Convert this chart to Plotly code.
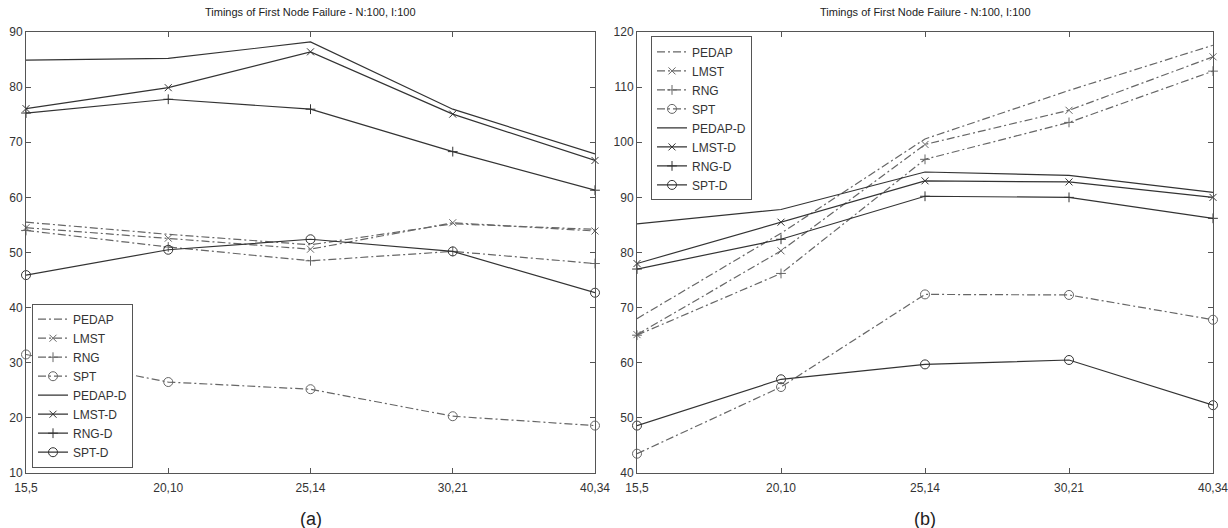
import plotly.graph_objects as go

categories = ["15,5", "20,10", "25,14", "30,21", "40,34"]
series_names = ["PEDAP", "LMST", "RNG", "SPT", "PEDAP-D", "LMST-D", "RNG-D", "SPT-D"]

# Panel (a)
a_pedap = [55.5, 53.3, 51.4, 55.2, 54.2]
a_lmst = [54.5, 52.6, 50.6, 55.4, 53.9]
a_rng = [54.0, 51.0, 48.5, 50.2, 48.0]
a_spt = [31.5, 26.5, 25.2, 20.3, 18.6]
a_pedap_d = [84.9, 85.2, 88.2, 76.0, 67.9]
a_lmst_d = [76.1, 79.9, 86.4, 75.1, 66.7]
a_rng_d = [75.3, 77.8, 76.0, 68.3, 61.3]
a_spt_d = [45.9, 50.5, 52.4, 50.2, 42.7]

# Panel (b)
b_pedap = [68.0, 83.5, 100.6, 109.4, 117.6]
b_lmst = [65.1, 80.3, 99.6, 105.8, 115.5]
b_rng = [65.0, 76.2, 96.9, 103.6, 112.9]
b_spt = [43.5, 55.6, 72.4, 72.3, 67.8]
b_pedap_d = [85.2, 87.8, 94.6, 94.0, 90.9]
b_lmst_d = [78.0, 85.5, 93.0, 92.8, 90.0]
b_rng_d = [77.0, 82.4, 90.2, 90.0, 86.2]
b_spt_d = [48.6, 57.0, 59.7, 60.5, 52.3]

title_text = "Timings of First Node Failure - N:100, I:100"
panel_labels = ["(a)", "(b)"]

DASH_COL = "#666666"
SOLID_COL = "#333333"
styles = [
    dict(dash="dashdot", color=DASH_COL, symbol=None),
    dict(dash="dashdot", color=DASH_COL, symbol="x-thin-open"),
    dict(dash="dashdot", color=DASH_COL, symbol="cross-thin-open"),
    dict(dash="dashdot", color=DASH_COL, symbol="circle-open"),
    dict(dash="solid", color=SOLID_COL, symbol=None),
    dict(dash="solid", color=SOLID_COL, symbol="x-thin-open"),
    dict(dash="solid", color=SOLID_COL, symbol="cross-thin-open"),
    dict(dash="solid", color=SOLID_COL, symbol="circle-open"),
]

fig = go.Figure()

panels = [
    ([a_pedap, a_lmst, a_rng, a_spt, a_pedap_d, a_lmst_d, a_rng_d, a_spt_d], "x", "y", "legend"),
    ([b_pedap, b_lmst, b_rng, b_spt, b_pedap_d, b_lmst_d, b_rng_d, b_spt_d], "x2", "y2", "legend2"),
]

for data, xa, ya, lg in panels:
    for name, vals, st in zip(series_names, data, styles):
        sym = st["symbol"]
        mode = "lines+markers" if sym else "lines"
        msize = 9 if sym == "circle-open" else 7
        fig.add_trace(go.Scatter(
            x=categories, y=vals, name=name, mode=mode,
            xaxis=xa, yaxis=ya, legend=lg,
            line=dict(color=st["color"], width=1.2,
                      dash=("8px,3px,2px,3px" if st["dash"] == "dashdot" else "solid")),
            marker=dict(symbol=sym or "circle", size=msize, color=st["color"],
                        line=dict(color=st["color"], width=1)),
            cliponaxis=False,
        ))

axis_common = dict(
    showline=True, linecolor="#555555", linewidth=1, mirror="ticks", automargin=False,
    ticks="inside", ticklen=5, tickcolor="#555555", showgrid=False, zeroline=False,
    tickfont=dict(family="Liberation Sans, Arial, sans-serif", size=12, color="#333333"),
)

W, H = 1228, 528
fig.update_layout(
    width=W, height=H,
    margin=dict(l=0, r=0, t=32, b=55, autoexpand=False),
    plot_bgcolor="white", paper_bgcolor="white",
    font=dict(family="Liberation Sans, Arial, sans-serif", color="#333333"),
    xaxis=dict(domain=[26 / W, 595 / W], type="category", range=[0, 4], anchor="y",
               ticklabelstandoff=4, **axis_common),
    yaxis=dict(domain=[0, 1], range=[10, 90], dtick=10, anchor="x", **axis_common),
    xaxis2=dict(domain=[637 / W, 1213 / W], type="category", range=[0, 4], anchor="y2",
                ticklabelstandoff=4, **axis_common),
    yaxis2=dict(domain=[0, 1], range=[40, 120], dtick=10, anchor="x2", **axis_common),
    legend=dict(x=32 / W, y=0.012, xanchor="left", yanchor="bottom", bgcolor="white",
                bordercolor="#555555", borderwidth=1, font=dict(size=12, color="#333333"),
                tracegroupgap=0, itemwidth=30),
    legend2=dict(x=651 / W, y=0.99, xanchor="left", yanchor="top", bgcolor="white",
                 bordercolor="#555555", borderwidth=1, font=dict(size=12, color="#333333"),
                 tracegroupgap=0, itemwidth=30),
    showlegend=True,
)

centers = [(26 + 595) / 2 / W, (637 + 1213) / 2 / W]
for cx, lab in zip(centers, panel_labels):
    fig.add_annotation(x=cx, y=1, xref="paper", yref="paper", xanchor="center", yanchor="middle",
                       yshift=20, text=title_text, showarrow=False,
                       font=dict(size=11, color="#222222"))
    fig.add_annotation(x=cx, y=0, xref="paper", yref="paper", xanchor="center", yanchor="middle",
                       yshift=-46, text=lab, showarrow=False,
                       font=dict(size=18, color="#222222"))

fig.write_html("out.html", config={"displayModeBar": False},
               post_script="document.body.style.margin='0';document.body.style.overflow='hidden';")
